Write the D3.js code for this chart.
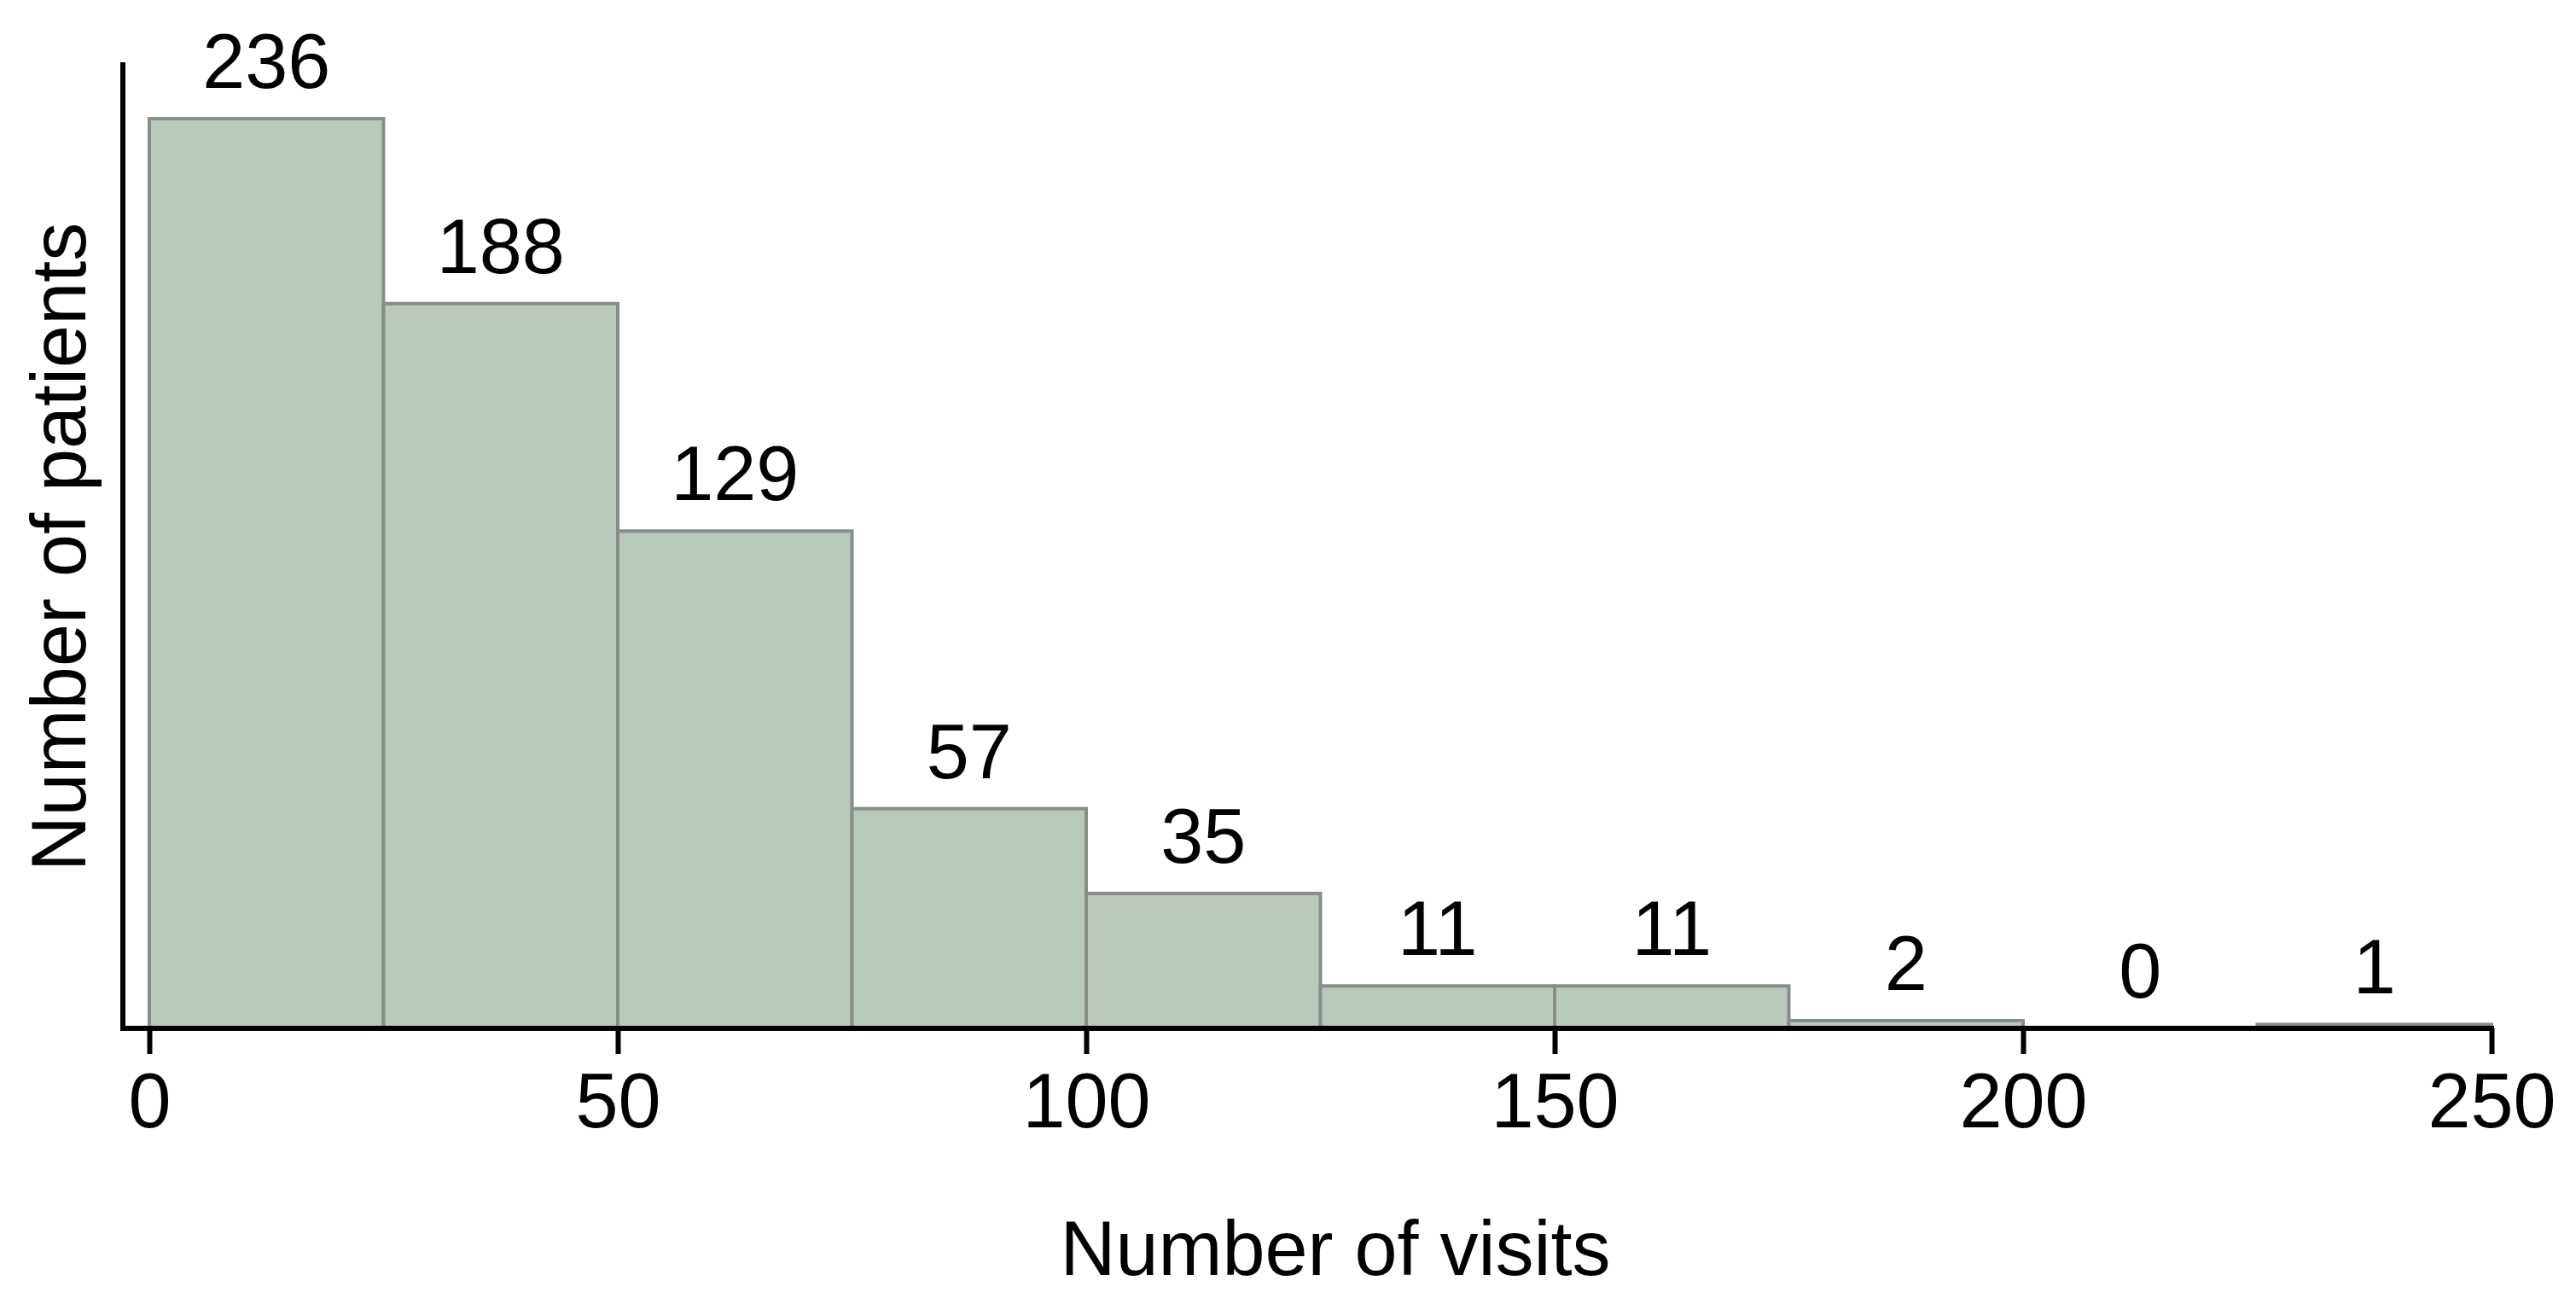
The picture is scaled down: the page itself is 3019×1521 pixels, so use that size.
<!DOCTYPE html>
<html>
<head>
<meta charset="utf-8">
<script src="https://cdn.jsdelivr.net/npm/d3@7"></script>
<style>
  body { margin: 0; background: #fff; }
  svg text { font-family: "Liberation Sans", Arial, sans-serif; fill: #000; }
</style>
</head>
<body>
<svg id="chart" width="3019" height="1521"></svg>
<script>
// histogram bins (visits) and counts
var binStarts = [0, 25, 50, 75, 100, 125, 150, 175, 200, 225];
var binWidth = 25;
var counts = [236, 188, 129, 57, 35, 11, 11, 2, 0, 1];
var xTicks = [0, 50, 100, 150, 200, 250];

var svg = d3.select("#chart");

var x = d3.scaleLinear().domain([0, 250]).range([175, 2920]);
var y = d3.scaleLinear().domain([0, 236]).range([1205, 139]);

// bars
svg.selectAll("rect.bar")
  .data(binStarts)
  .enter().append("rect")
  .attr("class", "bar")
  .attr("x", function(d) { return x(d); })
  .attr("width", function(d) { return x(d + binWidth) - x(d); })
  .attr("y", function(d, i) { return y(counts[i]); })
  .attr("height", function(d, i) { return y(0) - y(counts[i]); })
  .attr("fill", "#b9c9bb")
  .attr("stroke", "#888d8a")
  .attr("stroke-width", 4);

// count labels
svg.selectAll("text.count")
  .data(binStarts)
  .enter().append("text")
  .attr("class", "count")
  .attr("x", function(d) { return x(d + binWidth / 2); })
  .attr("y", function(d, i) { return y(counts[i]) - 36; })
  .attr("text-anchor", "middle")
  .attr("font-size", 90)
  .text(function(d, i) { return counts[i]; });

// x axis
var xAxis = svg.append("g")
  .attr("transform", "translate(0,1205)")
  .call(d3.axisBottom(x).tickValues(xTicks).tickSize(30).tickPadding(22).tickSizeOuter(0));
xAxis.select(".domain").attr("stroke", "#000").attr("stroke-width", 6)
  .attr("d", "M141,0H" + (x(250) + 3));
xAxis.selectAll(".tick line").attr("stroke", "#000").attr("stroke-width", 6);
xAxis.selectAll(".tick text").attr("font-size", 90).attr("fill", "#000")
  .attr("font-family", "Liberation Sans, Arial, sans-serif");

// y axis line (no ticks)
svg.append("line")
  .attr("x1", 144).attr("x2", 144)
  .attr("y1", 73).attr("y2", 1208)
  .attr("stroke", "#000").attr("stroke-width", 6);

// axis titles
svg.append("text")
  .attr("x", 1565).attr("y", 1494)
  .attr("text-anchor", "middle")
  .attr("font-size", 90)
  .text("Number of visits");

svg.append("text")
  .attr("transform", "translate(100,641) rotate(-90)")
  .attr("text-anchor", "middle")
  .attr("font-size", 90)
  .text("Number of patients");
</script>
</body>
</html>
